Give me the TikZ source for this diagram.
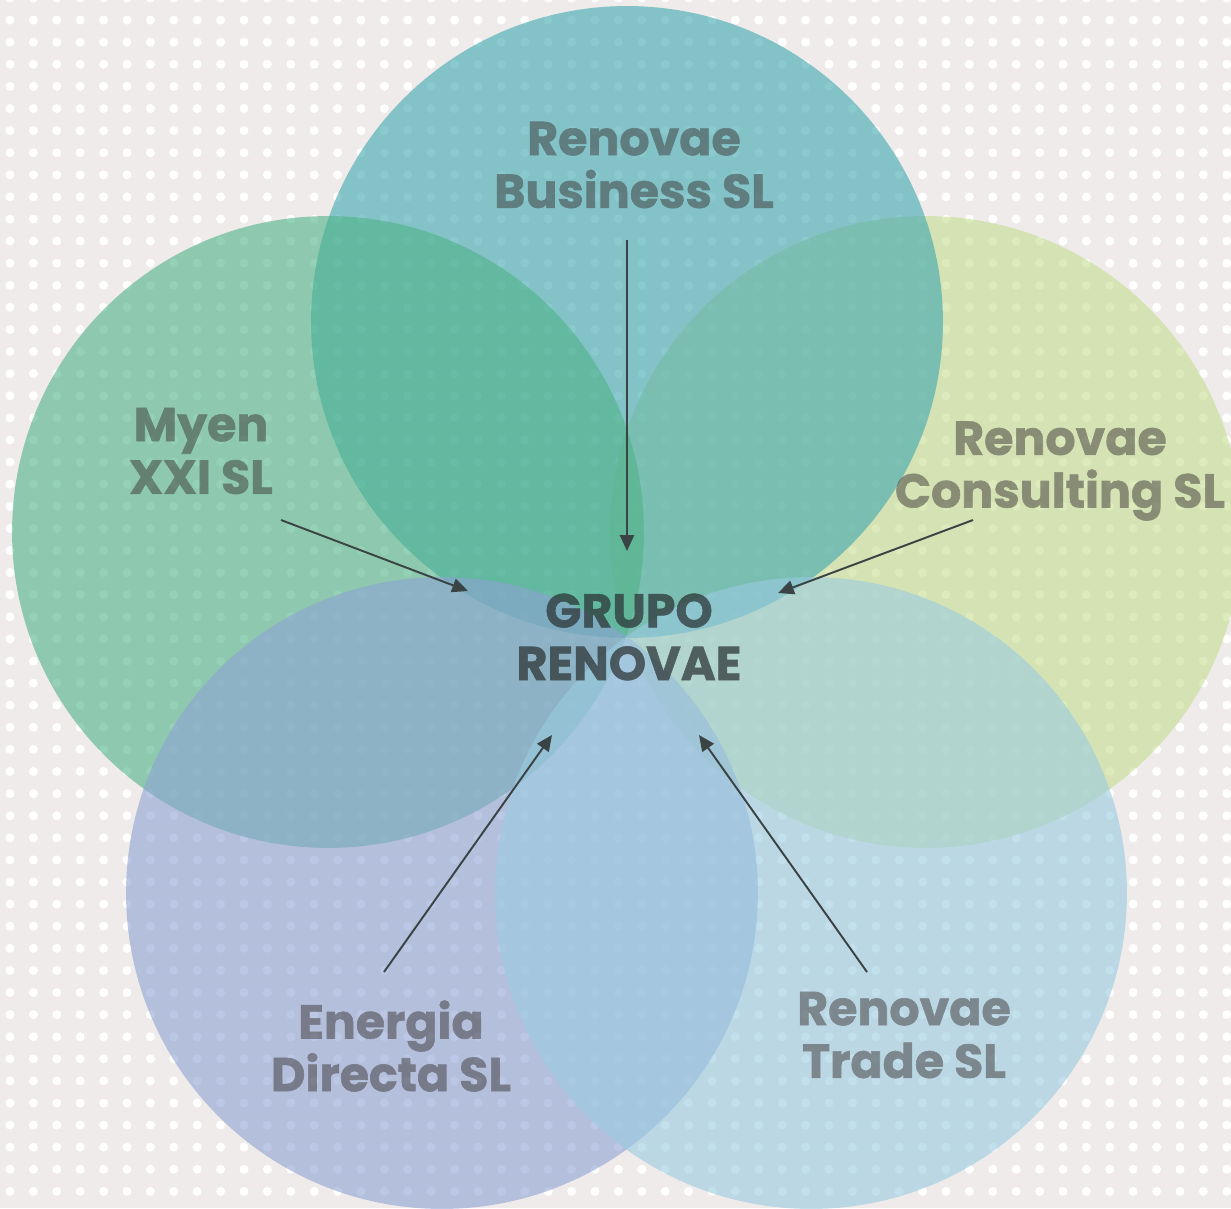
\documentclass[tikz,border=0pt]{standalone}
\usepackage{fontspec}
\setmainfont{Poppins}[BoldFeatures={FakeBold=1.3}]
\usetikzlibrary{arrows.meta}
\definecolor{bgc}{HTML}{EFEBEA}
\definecolor{cteal}{HTML}{3CA7AF}
\definecolor{cgreen}{HTML}{4EB388}
\definecolor{cyellow}{HTML}{C5DC90}
\definecolor{clav}{HTML}{8EA3D4}
\definecolor{cblue}{HTML}{9ACBE0}
\definecolor{txtc}{HTML}{3C3838}
\definecolor{maintxt}{HTML}{2A3232}
\definecolor{arrc}{HTML}{3B4444}
\tikzset{
  petal/.style={fill=#1, fill opacity=0.6, draw=none},
  lbl/.style={align=center, font=\bfseries\fontsize{27}{30}\selectfont, text=txtc, inner sep=0pt},
  mainlbl/.style={align=center, font=\bfseries\fontsize{27}{30}\selectfont, text=maintxt, inner sep=0pt},
  link/.style={draw=arrc, line width=1.1pt, -{Triangle[length=9pt,width=8pt]}}
}
\begin{document}
\begin{tikzpicture}[x=0.02cm,y=-0.02cm]
\useasboundingbox (0,0) rectangle (1231,1208);
\fill[bgc] (0,0) rectangle (1231,1208);
\foreach \i in {0,...,52}{
  \foreach \j in {0,...,55}{
    \fill[white] ({10+23.4*\i},{-2+22.1*\j}) circle[radius=0.09cm];
  }
}
% circles
\fill[petal=cyellow] (926,532) circle[radius=6.32cm];
\fill[petal=cteal] (627,322) circle[radius=6.32cm];
\fill[petal=cgreen] (328,532) circle[radius=6.32cm];
\fill[petal=clav] (442,893) circle[radius=6.32cm];
\fill[petal=cblue] (811,893) circle[radius=6.32cm];
% labels
\begin{scope}[transparency group, opacity=0.72]
\node[mainlbl] (grupo) at (629,637) {GRUPO\\RENOVAE};
\end{scope}
\begin{scope}[transparency group, opacity=0.5]
\node[lbl] (business) at (634,165) {Renovae\\Business SL};
\node[lbl] (myen) at (201,451) {Myen\\XXI SL};
\node[lbl] (consulting) at (1060,471) {Renovae\\Consulting SL};
\node[lbl] (energia) at (391,1046) {Energia\\Directa SL};
\node[lbl] (trade) at (904,1035) {Renovae\\Trade SL};
\end{scope}
% arrow ends
\coordinate (bs) at (627,240);
\coordinate (be) at (627,551);
\coordinate (ms) at (281,520);
\coordinate (me) at (468,591);
\coordinate (cs) at (973,520);
\coordinate (ce) at (778,593);
\coordinate (es) at (384,972);
\coordinate (ee) at (552,735);
\coordinate (ts) at (867,972);
\coordinate (te) at (699,735);
\draw[link] (bs) -- (be);
\draw[link] (ms) -- (me);
\draw[link] (cs) -- (ce);
\draw[link] (es) -- (ee);
\draw[link] (ts) -- (te);
\end{tikzpicture}
\end{document}
